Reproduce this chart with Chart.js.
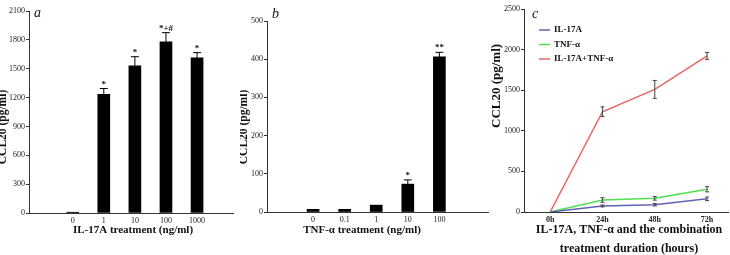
<!DOCTYPE html>
<html>
<head>
<meta charset="utf-8">
<script src="https://cdn.jsdelivr.net/npm/chart.js@4"></script>
<style>
body{margin:0;background:#fff;width:730px;height:255px;position:relative;overflow:hidden}
.panel{position:absolute;top:0;height:255px}
</style>
</head>
<body>
<div class="panel" style="left:0;width:240px"><canvas id="chartA"></canvas></div>
<div class="panel" style="left:240px;width:250px"><canvas id="chartB"></canvas></div>
<div class="panel" style="left:490px;width:240px"><canvas id="chartC"></canvas></div>
<script>
// a: IL-17A dose
const doseA=["0","1","10","100","1000"]
const ccl20A=[8,1234,1530,1780,1612]
const semA=[0,60,95,95,55]
const marksA=["","*","*","*+#","*"]
const ticksA=[0,300,600,900,1200,1500,1800,2100]

// b: TNF-a dose
const doseB=["0","0.1","1","10","100"]
const ccl20B=[7,7,18,73,406]
const semB=[0,0,0,11,12]
const marksB=["","","","*","**"]
const ticksB=[0,100,200,300,400,500]

// c: time course
const hours=["0h","24h","48h","72h"]
const il17a=[0,74,90,162]
const tnfa=[0,148,168,280]
const combo=[0,1235,1510,1922]
const semIl17a=[0,12,15,22]
const semTnfa=[0,28,22,32]
const semCombo=[0,60,110,42]
const ticksC=[0,500,1000,1500,2000,2500]

const serif="'Liberation Serif', 'Times New Roman', serif"
Chart.defaults.font.family=serif
Chart.defaults.color="#222"
Chart.defaults.animation=false

const errorBars={
    id:"errorBars",
    afterDatasetsDraw(chart,args,opts){
        const {ctx,scales:{x,y}}=chart
        ctx.save()
        ctx.lineWidth=1
        ctx.font="bold 9px "+serif
        ctx.textAlign="center"
        ctx.textBaseline="alphabetic"
        chart.data.datasets.forEach(ds=>{
            if(!ds.sem) return
            ds.data.forEach((p,i)=>{
                const e=ds.sem[i]
                const px=x.getPixelForValue(p.x)
                let top=y.getPixelForValue(p.y)
                if(e){
                    top=y.getPixelForValue(p.y+e)
                    const bot=y.getPixelForValue(opts.both?p.y-e:p.y)
                    ctx.strokeStyle=opts.color
                    ctx.beginPath()
                    ctx.moveTo(px,top);ctx.lineTo(px,bot)
                    ctx.moveTo(px-opts.cap,top);ctx.lineTo(px+opts.cap,top)
                    if(opts.both){ctx.moveTo(px-opts.cap,bot);ctx.lineTo(px+opts.cap,bot)}
                    ctx.stroke()
                }
                if(ds.marks&&ds.marks[i]){
                    ctx.fillStyle="#111"
                    ctx.fillText(ds.marks[i],px,top-2)
                }
            })
        })
        ctx.restore()
    }
}

const panelText={
    id:"panelText",
    afterDraw(chart,args,o){
        const {ctx}=chart
        ctx.save()
        ctx.fillStyle="#111"
        ctx.textBaseline="alphabetic"
        ctx.textAlign="left"
        ctx.font="italic 14px "+serif
        ctx.fillText(o.letter,o.letterX,o.letterY)

        ctx.font="bold "+o.xSize+"px "+serif
        ctx.textAlign="center"
        ctx.textBaseline="middle"
        o.xTitle.forEach((t,i)=>ctx.fillText(t,o.xX,o.xY+i*19))

        // legend drawn from the datasets
        if(o.legend){
            ctx.font="bold 9px "+serif
            ctx.textAlign="left"
            chart.data.datasets.forEach((ds,i)=>{
                const ly=o.legend.y+i*14.5
                ctx.strokeStyle=ds.borderColor
                ctx.lineWidth=1.5
                ctx.beginPath()
                ctx.moveTo(o.legend.x,ly);ctx.lineTo(o.legend.x+11,ly)
                ctx.stroke()
                ctx.fillText(ds.label,o.legend.x+15,ly)
            })
        }

        ctx.translate(o.yX,o.yY)
        ctx.rotate(-Math.PI/2)
        ctx.font="bold "+o.ySize+"px "+serif
        ctx.fillText("CCL20 (pg/ml)",0,0)
        ctx.restore()
    }
}

function yScale(max,ticks,width){
    return {
        min:0,
        max:max,
        afterFit:s=>{s.width=width},
        afterBuildTicks:s=>{s.ticks=ticks.map(v=>({value:v}))},
        border:{color:"#333"},
        grid:{drawOnChartArea:false,tickLength:3,color:"#333"},
        ticks:{font:{size:8},padding:1,color:"#222",callback:v=>String(v)}
    }
}

function xScale(labels,min,max,height,bold){
    return {
        type:"linear",
        min:min,
        max:max,
        afterFit:s=>{s.height=height},
        afterBuildTicks:s=>{s.ticks=labels.map((l,i)=>({value:i}))},
        border:{color:"#333"},
        grid:{display:false,drawTicks:false},
        ticks:{
            font:{size:8,weight:bold?"bold":"normal"},
            padding:3,
            color:"#222",
            callback:v=>labels[v]
        }
    }
}

function barChart(id,labels,values,sem,marks,yMax,yTicks,xMin,xMax,yWidth,xHeight,pad,text){
    new Chart(document.getElementById(id),{
        type:"bar",
        data:{
            datasets:[{
                data:labels.map((l,i)=>({x:i,y:values[i]})),
                sem:sem,
                marks:marks,
                backgroundColor:"#000",
                barThickness:12
            }]
        },
        options:{
            responsive:true,
            maintainAspectRatio:false,
            layout:{padding:pad},
            plugins:{
                legend:{display:false},
                tooltip:{enabled:false},
                errorBars:{color:"#000",cap:4,both:false},
                panelText:text
            },
            scales:{
                x:xScale(labels,xMin,xMax,xHeight,false),
                y:yScale(yMax,yTicks,yWidth)
            }
        },
        plugins:[errorBars,panelText]
    })
}

barChart("chartA",doseA,ccl20A,semA,marksA,2100,ticksA,-0.75,4.5,29,42,
    {left:0,right:7,top:11,bottom:0},
    {letter:"a",letterX:34,letterY:17,xTitle:["IL-17A treatment (ng/ml)"],xX:133,xY:230,xSize:11,yX:3,yY:127,ySize:11.5})

barChart("chartB",doseB,ccl20B,semB,marksB,500,ticksB,-0.76,4.84,27,43,
    {left:0,right:2,top:21,bottom:0},
    {letter:"b",letterX:32,letterY:18,xTitle:["TNF-α treatment (ng/ml)"],xX:122,xY:230,xSize:11,yX:4,yY:127,ySize:11.5})

new Chart(document.getElementById("chartC"),{
    type:"line",
    data:{
        datasets:[
            {label:"IL-17A",data:hours.map((h,i)=>({x:i,y:il17a[i]})),sem:semIl17a,borderColor:"#6262b4"},
            {label:"TNF-α",data:hours.map((h,i)=>({x:i,y:tnfa[i]})),sem:semTnfa,borderColor:"#4fe04f"},
            {label:"IL-17A+TNF-α",data:hours.map((h,i)=>({x:i,y:combo[i]})),sem:semCombo,borderColor:"#e86464"}
        ]
    },
    options:{
        responsive:true,
        maintainAspectRatio:false,
        layout:{padding:{left:0,right:2,top:9,bottom:0}},
        elements:{
            line:{borderWidth:1.5,tension:0},
            point:{radius:0}
        },
        plugins:{
            legend:{display:false},
            tooltip:{enabled:false},
            errorBars:{color:"#444",cap:2,both:true},
            panelText:{letter:"c",letterX:42,letterY:18,
                xTitle:["IL-17A, TNF-α and the combination","treatment duration (hours)"],xX:139,xY:230,xSize:12,
                yX:7,yY:128,ySize:13,legend:{x:49,y:30}}
        },
        scales:{
            x:xScale(hours,-0.5,3.4,43,true),
            y:yScale(2500,ticksC,34)
        }
    },
    plugins:[errorBars,panelText]
})
</script>
</body>
</html>
